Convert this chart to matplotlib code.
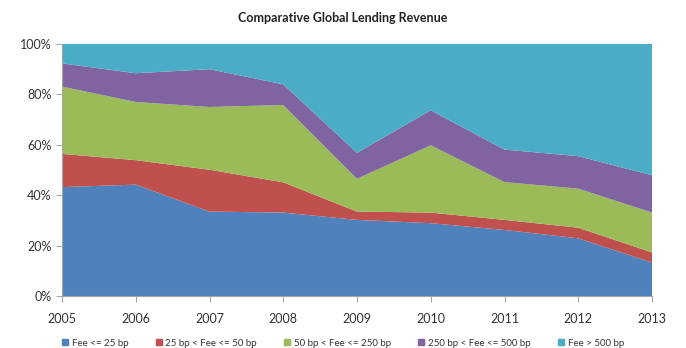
import matplotlib
matplotlib.use("Agg")
import matplotlib.pyplot as plt
import matplotlib.patches as mpatches
import matplotlib.ticker as ticker

plt.rcParams["font.family"] = ["Lato", "DejaVu Sans"]

years = [2005, 2006, 2007, 2008, 2009, 2010, 2011, 2012, 2013]

# share of lending revenue by fee band, percent
fee_le_25 = [43.2, 44.2, 33.5, 33.1, 30.2, 28.9, 26.2, 22.9, 13.3]
fee_25_50 = [13.2, 9.7, 16.6, 12.0, 3.3, 4.2, 4.0, 4.2, 4.0]
fee_50_250 = [26.7, 23.1, 24.9, 30.7, 13.0, 26.7, 15.0, 15.5, 15.8]
fee_250_500 = [9.2, 11.4, 15.0, 8.2, 10.3, 13.9, 12.9, 12.9, 14.8]
fee_gt_500 = [100 - a - b - c - d for a, b, c, d in
              zip(fee_le_25, fee_25_50, fee_50_250, fee_250_500)]

labels = ["Fee <= 25 bp", "25 bp < Fee <= 50 bp", "50 bp < Fee <= 250 bp",
          "250 bp < Fee <= 500 bp", "Fee > 500 bp"]
colors = ["#4F81BD", "#C0504D", "#9BBB59", "#8064A2", "#4BACC6"]

fig = plt.figure(figsize=(6.86, 3.48), dpi=100, facecolor="white")
ax = fig.add_axes([62 / 686, 52 / 348, 590 / 686, 252 / 348])

ax.stackplot(years, fee_le_25, fee_25_50, fee_50_250, fee_250_500, fee_gt_500,
             colors=colors, linewidth=0)

ax.set_xlim(2005, 2013)
ax.set_ylim(0, 100)
ax.set_xticks(years)
ax.set_yticks(range(0, 101, 20))
ax.yaxis.set_major_formatter(ticker.FuncFormatter(lambda v, _: f"{v:.0f}%"))

for side in ("top", "right"):
    ax.spines[side].set_visible(False)
for side in ("left", "bottom"):
    ax.spines[side].set_color("#A6A6A6")
    ax.spines[side].set_linewidth(0.8)
ax.tick_params(axis="both", colors="#A6A6A6", length=4, width=0.8,
               labelsize=9, labelcolor="#333333")
ax.tick_params(axis="x", pad=8)

fig.text(0.5, 1 - 18 / 348, "Comparative Global Lending Revenue",
         ha="center", va="center", fontsize=9, fontweight="bold", color="#222222")

handles = [mpatches.Patch(color=c, label=l) for c, l in zip(colors, labels)]
fig.legend(handles=handles, loc="center", bbox_to_anchor=(0.5, 1 - 343 / 348),
           ncol=5, frameon=False, fontsize=7, handlelength=0.6, handleheight=0.6,
           handletextpad=0.4, columnspacing=2.8, labelcolor="#333333",
           borderpad=0, borderaxespad=0)

fig.savefig("out.png", dpi=100, facecolor="white")
